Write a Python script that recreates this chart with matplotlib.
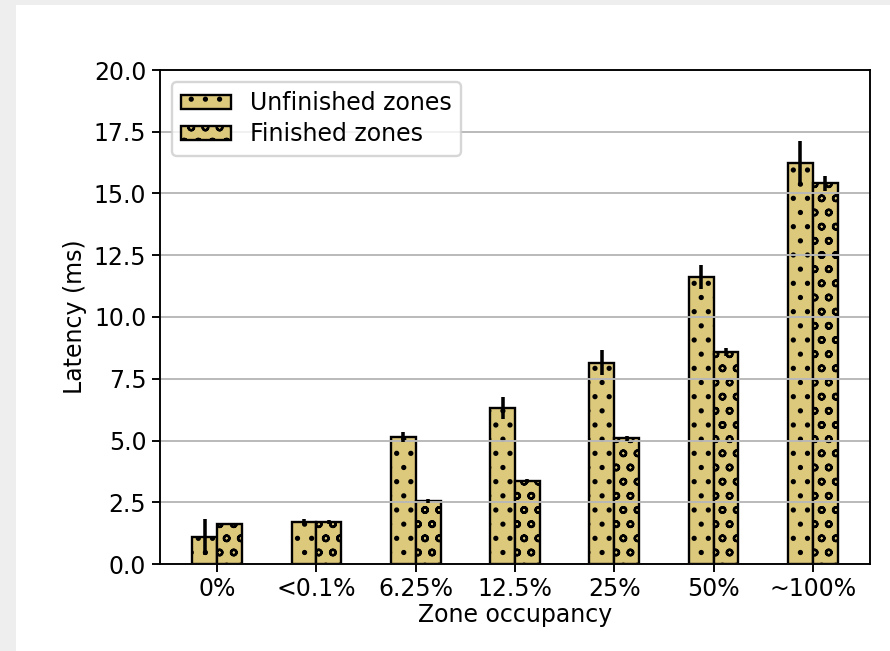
import matplotlib
matplotlib.use("Agg")
import matplotlib.pyplot as plt
import numpy as np
from matplotlib.patches import Rectangle

# Zone occupancy levels and measured latency (ms)
occupancy = ["0%", "<0.1%", "6.25%", "12.5%", "25%", "50%", "~100%"]
unfinished = [1.1, 1.72, 5.15, 6.33, 8.15, 11.62, 16.22]
unfinished_err = [0.72, 0.12, 0.2, 0.45, 0.5, 0.5, 0.9]
finished = [1.62, 1.7, 2.55, 3.36, 5.1, 8.58, 15.41]
finished_err = [0.05, 0.1, 0.1, 0.1, 0.1, 0.15, 0.3]
yticks = [0.0, 2.5, 5.0, 7.5, 10.0, 12.5, 15.0, 17.5, 20.0]

DPI = 170
fig = plt.figure(figsize=(890 / DPI, 651 / DPI), dpi=DPI)
fig.patch.set_facecolor("#eeeeee")
# white card behind the plot
fig.add_artist(Rectangle((16 / 890, 0), 1 - 16 / 890, 1 - 5 / 651,
                         transform=fig.transFigure, facecolor="white",
                         edgecolor="none", zorder=0))

ax = fig.add_axes([160 / 890, 1 - 564 / 651, 710 / 890, 494 / 651])

x = np.arange(len(occupancy))
w = 0.25
bar_color = "#ddc97c"
ax.bar(x - w / 2, unfinished, w, yerr=unfinished_err, color=bar_color,
       edgecolor="black", hatch="..", label="Unfinished zones")
ax.bar(x + w / 2, finished, w, yerr=finished_err, color=bar_color,
       edgecolor="black", hatch="oo", label="Finished zones")

ax.set_xticks(x)
ax.set_xticklabels(occupancy)
ax.set_yticks(yticks)
ax.set_ylim(0, 20)
ax.tick_params(axis="x", pad=1.8)
ax.tick_params(axis="y", pad=2.3)
ax.yaxis.grid(True, color="#b8b8b8", linewidth=0.8)
ax.set_xlabel("Zone occupancy", labelpad=1.0)
ax.set_ylabel("Latency (ms)", labelpad=3.0)
ax.legend(loc="upper left", labelspacing=0.3, handlelength=2.1,
          handleheight=0.55)

fig.savefig("out.png", dpi=DPI, facecolor=fig.get_facecolor())
